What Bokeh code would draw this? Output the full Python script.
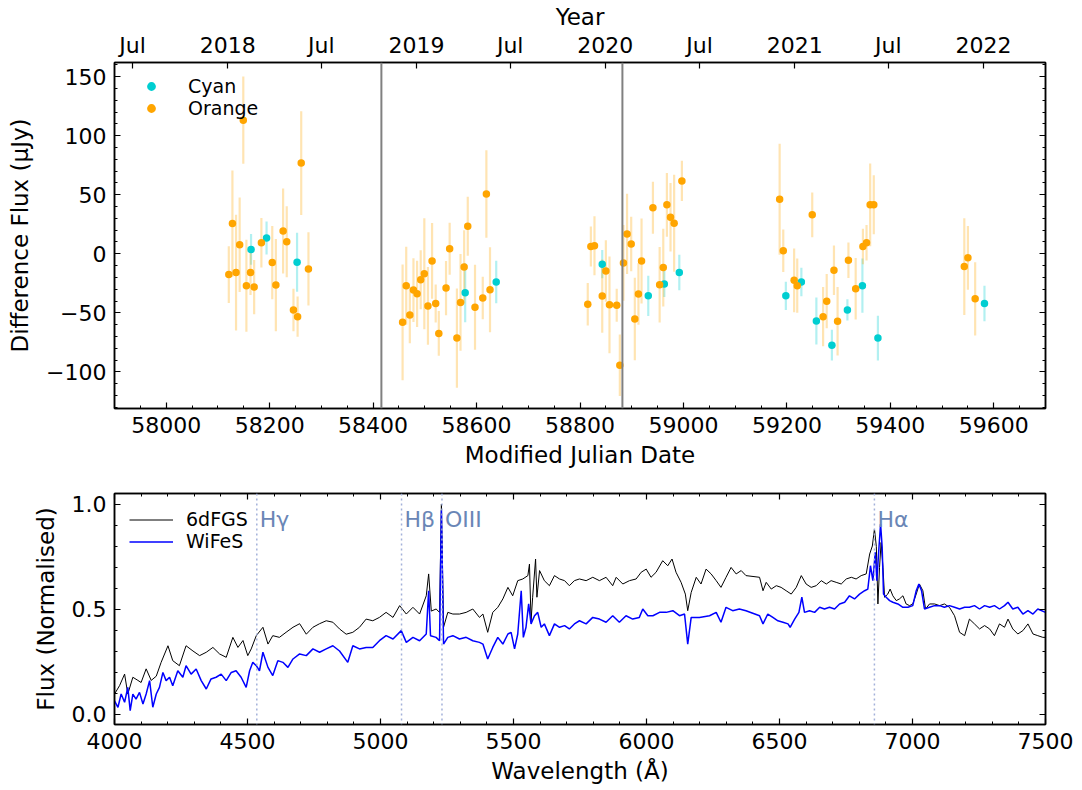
import datetime
from bokeh.plotting import figure
from bokeh.models import (LinearAxis, FixedTicker, SingleIntervalTicker, Span, Legend, LegendItem,
                          ColumnDataSource, Range1d, CustomJSTickFormatter)
from bokeh.layouts import column
from bokeh.core.properties import value
from bokeh.embed import file_html
from bokeh.resources import INLINE

FONT = "DejaVu Sans"

# ---------------- light curve data (MJD, difference flux in uJy, 1-sigma error) -------------
cyan_mjd = [58164, 58194, 58253, 58578, 58638, 58843, 58932, 58963, 58992,
            59198, 59228, 59257, 59287, 59317, 59346, 59376, 59582]
cyan_flux = [3.7, 13.4, -7.1, -33.0, -23.9, -8.8, -35.6, -25.6, -15.9,
             -35.6, -23.9, -56.9, -77.4, -47.5, -27.0, -71.4, -42.1]
cyan_err = [13, 14, 25, 25, 18, 12, 17, 11, 15, 12, 12, 20, 13, 9, 23, 19, 15]

orange_mjd = [58121, 58128, 58135, 58142, 58149, 58155, 58163, 58170, 58184, 58205, 58212,
              58226, 58233, 58246, 58254, 58261, 58275,
              58457, 58464, 58471, 58478, 58485, 58492, 58499, 58506, 58514, 58521, 58527,
              58541, 58548, 58562, 58569, 58576, 58583, 58597, 58612, 58619, 58626,
              58815, 58821, 58828, 58843, 58850, 58857, 58871, 58877, 58884, 58891, 58899,
              58906, 58913, 58919, 58941, 58954, 58961, 58968, 58975, 58982, 58997,
              59186, 59193, 59214, 59220, 59249, 59270, 59277, 59291, 59298, 59319, 59333,
              59347, 59354, 59361, 59368, 59543, 59550, 59564]
orange_flux = [-17.6, 25.6, -15.9, 7.7, 113.2, -27.0, -15.9, -28.2, 9.4, -7.4, -26.5,
               19.3, 10.2, -47.5, -53.2, 76.8, -12.8,
               -58.0, -27.0, -51.8, -30.7, -33.9, -21.9, -16.8, -44.1, -6.0, -42.1, -67.4,
               -29.0, 4.3, -71.4, -41.2, -11.1, 23.3, -45.2, -37.5, 50.6, -30.4,
               -42.7, 6.2, 6.8, -35.8, -14.5, -43.2, -43.5, -94.4, -7.7, 16.8, 8.3,
               -55.2, -34.1, -6.0, 39.0, -26.2, -11.7, 41.5, 31.0, 25.9, 61.7,
               46.1, 2.6, -22.5, -27.0, 33.0, -53.2, -40.1, -13.9, -57.2, -5.4, -29.6,
               6.2, 9.4, 41.5, 41.5, -10.8, -3.4, -38.1]
orange_err = [24, 45, 49, 40, 37, 39, 19, 23, 21, 31, 39, 36, 30, 18, 17, 44, 31,
              49, 33, 24, 27, 28, 25, 47, 33, 32, 16, 19, 23, 22, 42, 41, 31, 25, 36, 18, 37, 36,
              18, 17, 25, 31, 26, 41, 14, 26, 32, 34, 23, 35, 26, 36, 22, 32, 33, 27, 29, 41, 17,
              47, 18, 27, 23, 19, 25, 23, 21, 29, 15, 26, 15, 15, 35, 25, 41, 27, 31]

event_mjd = [58416, 58882]

year_tick_dates = [(2017, 7), (2018, 1), (2018, 7), (2019, 1), (2019, 7),
                   (2020, 1), (2020, 7), (2021, 1), (2021, 7), (2022, 1)]
year_tick_labels = ["Jul", "2018", "Jul", "2019", "Jul", "2020", "Jul", "2021", "Jul", "2022"]

# ---------------- spectra ------------------------------------------------------------------
wl_6dfgs = [4000, 4019, 4038, 4050, 4069, 4088, 4100, 4119, 4138, 4157, 4175, 4201, 4219, 4244,
            4269, 4295, 4320, 4345, 4370, 4395, 4420, 4445, 4464, 4483, 4501, 4514, 4533, 4558,
            4577, 4595, 4620, 4645, 4671, 4696, 4721, 4746, 4771, 4796, 4821, 4846, 4871, 4896,
            4921, 4946, 4971, 4996, 5021, 5047, 5072, 5097, 5122, 5147, 5172, 5181, 5191, 5209,
            5222, 5229, 5237, 5253, 5272, 5297, 5322, 5347,
            5372, 5385, 5403, 5422, 5441, 5460, 5479, 5497, 5516, 5535, 5554, 5560, 5566, 5572,
            5583, 5588, 5598, 5616, 5635, 5654, 5673, 5692, 5710, 5729, 5748, 5773, 5798, 5823,
            5848, 5873, 5886, 5911, 5936, 5961, 5980, 5999, 6017, 6036, 6061, 6080, 6096, 6111,
            6130, 6146, 6155, 6168, 6187, 6205, 6224, 6243, 6262, 6280, 6299, 6318, 6337, 6356,
            6374,
            6425, 6438, 6450, 6469, 6488, 6506, 6525, 6544, 6563, 6582, 6600, 6619, 6638, 6657,
            6676, 6694, 6713, 6732, 6751, 6770, 6788, 6807, 6826, 6839, 6849, 6857, 6864, 6870,
            6876, 6882, 6889, 6895, 6907, 6916, 6926, 6939, 6951, 6964, 6976, 6989, 7001, 7014,
            7026, 7039, 7049, 7064, 7083, 7102, 7120, 7139, 7158, 7177, 7196, 7214, 7233, 7252,
            7271, 7290, 7308, 7327, 7346, 7359, 7377, 7396, 7415, 7434, 7453, 7471, 7490, 7500]
flux_6dfgs = [0.095, 0.135, 0.19, 0.095, 0.175, 0.16, 0.15, 0.215, 0.16, 0.18, 0.245, 0.325, 0.254, 0.23,
              0.325, 0.30, 0.278, 0.294, 0.317, 0.286, 0.27, 0.365, 0.317, 0.35, 0.278, 0.31, 0.373, 0.413,
              0.333, 0.373, 0.365, 0.389, 0.413, 0.43, 0.38, 0.413, 0.43, 0.444, 0.437, 0.405, 0.38, 0.389,
              0.413, 0.452, 0.444, 0.46, 0.484, 0.46, 0.516, 0.476, 0.508, 0.476, 0.563, 0.667, 0.49, 0.5,
              0.484, 1.0, 0.413, 0.484, 0.476, 0.476, 0.484, 0.5,
              0.46, 0.476, 0.389, 0.484, 0.508, 0.548, 0.603, 0.563, 0.635, 0.643, 0.659, 0.714, 0.444, 0.556,
              0.738, 0.556, 0.683, 0.635, 0.611, 0.659, 0.643, 0.635, 0.611, 0.635, 0.643, 0.635, 0.651, 0.635,
              0.651, 0.611, 0.651, 0.619, 0.635, 0.643, 0.675, 0.69, 0.651, 0.675, 0.73, 0.706, 0.738, 0.675,
              0.627, 0.571, 0.492, 0.579, 0.651, 0.619, 0.69, 0.667, 0.635, 0.603, 0.651, 0.698, 0.667, 0.683,
              0.659,
              0.651, 0.587, 0.627, 0.595, 0.611, 0.603, 0.587, 0.571, 0.603, 0.659, 0.619, 0.603, 0.611, 0.635,
              0.619, 0.635, 0.627, 0.619, 0.643, 0.651, 0.643, 0.659, 0.667, 0.762, 0.80, 0.881, 0.798, 0.524,
              0.698, 0.817, 0.698, 0.556, 0.571, 0.595, 0.563, 0.54, 0.548, 0.563, 0.524, 0.516, 0.524, 0.571,
              0.619, 0.587, 0.5, 0.524, 0.524, 0.516, 0.524, 0.508, 0.468, 0.389, 0.373, 0.452, 0.429, 0.405,
              0.421, 0.405, 0.373, 0.429, 0.413, 0.452, 0.405, 0.381, 0.397, 0.429, 0.381, 0.373, 0.365, 0.365]

wl_wifes = [4000, 4013, 4025, 4038, 4050, 4059, 4069, 4081, 4094, 4107, 4119, 4132, 4144, 4157,
            4169, 4182, 4194, 4207, 4219, 4238, 4257, 4269, 4288, 4307, 4326, 4345, 4363, 4382,
            4401, 4420, 4439, 4457, 4476, 4495, 4508, 4520, 4533, 4545, 4558, 4577, 4595, 4614,
            4633, 4652, 4671, 4696, 4721, 4746, 4771, 4796, 4821, 4846, 4877, 4896, 4921, 4946,
            4971, 4996, 5021, 5047, 5078, 5097, 5122, 5147, 5172, 5181, 5188, 5209, 5222, 5229,
            5237, 5253, 5272, 5297, 5322, 5347,
            5372, 5385, 5403, 5422, 5441, 5460, 5479, 5491, 5504, 5516, 5529, 5537, 5547, 5557,
            5566, 5579, 5591, 5604, 5616, 5635, 5654, 5673, 5692, 5710, 5729, 5748, 5773, 5798,
            5823, 5848, 5873, 5898, 5923, 5948, 5973, 5986, 6005, 6024, 6049, 6074, 6099, 6124,
            6143, 6155, 6168, 6199, 6237, 6262, 6280, 6299, 6324, 6349, 6374,
            6425, 6438, 6456, 6475, 6494, 6513, 6532, 6540, 6557, 6573, 6584, 6594, 6613, 6632,
            6651, 6669, 6688, 6707, 6726, 6745, 6763, 6782, 6801, 6820, 6832, 6842, 6851, 6860,
            6866, 6874, 6880, 6886, 6891, 6901, 6914, 6926, 6945, 6964, 6983, 7001, 7014, 7024,
            7034, 7045, 7064, 7083, 7102, 7120, 7139, 7158, 7177, 7196, 7214, 7233, 7252, 7271,
            7290, 7308, 7327, 7346, 7359, 7377, 7396, 7415, 7434, 7453, 7471, 7500]
flux_wifes = [0.063, 0.032, 0.095, 0.056, 0.127, 0.016, 0.095, 0.071, 0.103, 0.048, 0.095, 0.159, 0.032, 0.095,
              0.127, 0.198, 0.159, 0.175, 0.135, 0.206, 0.175, 0.23, 0.19, 0.214, 0.159, 0.119, 0.167, 0.175,
              0.19, 0.159, 0.198, 0.206, 0.175, 0.127, 0.206, 0.246, 0.23, 0.206, 0.294, 0.222, 0.183, 0.254,
              0.246, 0.222, 0.262, 0.286, 0.278, 0.31, 0.294, 0.31, 0.325, 0.30, 0.246, 0.325, 0.31, 0.317,
              0.317, 0.349, 0.373, 0.357, 0.397, 0.341, 0.365, 0.349, 0.381, 0.587, 0.373, 0.365, 0.349, 0.97,
              0.333, 0.365, 0.373, 0.357, 0.365, 0.349,
              0.341, 0.333, 0.262, 0.317, 0.365, 0.333, 0.381, 0.389, 0.31, 0.381, 0.587, 0.365, 0.413, 0.524,
              0.429, 0.468, 0.484, 0.413, 0.429, 0.373, 0.429, 0.413, 0.421, 0.405, 0.429, 0.444, 0.429, 0.46,
              0.452, 0.437, 0.468, 0.437, 0.468, 0.452, 0.46, 0.5, 0.468, 0.468, 0.484, 0.484, 0.492, 0.468,
              0.476, 0.333, 0.46, 0.46, 0.468, 0.484, 0.437, 0.508, 0.492, 0.5, 0.492,
              0.468, 0.429, 0.476, 0.46, 0.444, 0.437, 0.429, 0.413, 0.452, 0.484, 0.556, 0.484, 0.492, 0.484,
              0.508, 0.5, 0.508, 0.5, 0.524, 0.532, 0.563, 0.548, 0.571, 0.587, 0.595, 0.706, 0.635, 0.770,
              0.635, 0.794, 0.905, 0.794, 0.571, 0.556, 0.54, 0.532, 0.524, 0.508, 0.508, 0.516, 0.587, 0.619,
              0.587, 0.5, 0.508, 0.516, 0.516, 0.508, 0.516, 0.508, 0.5, 0.508, 0.508, 0.516, 0.5, 0.516,
              0.508, 0.516, 0.5, 0.516, 0.532, 0.5, 0.508, 0.476, 0.492, 0.476, 0.5, 0.484]

line_names = ["H\u03b3", "H\u03b2", "OIII", "H\u03b1"]
line_rest_wl = [4340.5, 4861.3, 5006.8, 6562.8]
redshift = 0.0448

# ---------------- styling helpers ----------------------------------------------------------
CYAN = "#00CED1"
ORANGE = "#FFA500"
LINE_LABEL = "#6a86b6"
LINE_MARK = "#a3b1da"


def style_axis(ax, size="22px", label_size="23px"):
    ax.major_tick_in = 6
    ax.major_tick_out = 0
    ax.minor_tick_in = 3
    ax.minor_tick_out = 0
    ax.axis_line_color = "black"
    ax.axis_line_width = 1.5
    ax.major_tick_line_width = 1.2
    ax.minor_tick_line_width = 1
    ax.major_label_text_font = FONT
    ax.major_label_text_font_size = size
    ax.major_label_text_color = "black"
    ax.major_label_standoff = 8
    ax.axis_label_text_font = FONT
    ax.axis_label_text_font_size = label_size
    ax.axis_label_text_font_style = "normal"
    ax.axis_label_text_color = "black"
    ax.axis_label_standoff = 6


blank = CustomJSTickFormatter(code="return '';")

# ---------------- top panel: light curve ---------------------------------------------------
p1 = figure(width=1080, height=472, x_range=Range1d(57900, 59700), y_range=Range1d(-131, 162),
            output_backend="svg", toolbar_location=None,
            min_border_left=114, min_border_right=35, min_border_top=58, min_border_bottom=64)
p1.grid.visible = False
p1.outline_line_color = "black"
p1.outline_line_width = 1.5

xt1 = SingleIntervalTicker(interval=200, num_minor_ticks=4)
yt1 = SingleIntervalTicker(interval=50, num_minor_ticks=5)
p1.xaxis.ticker = xt1
p1.yaxis.ticker = yt1
p1.xaxis.formatter = CustomJSTickFormatter(code="return tick.toFixed(0);")
p1.yaxis.formatter = CustomJSTickFormatter(code="return tick.toFixed(0).replace('-', '\u2212');")
p1.xaxis.axis_label = "Modified Julian Date"
p1.yaxis.axis_label = "Difference Flux (\u03bcJy)"
style_axis(p1.xaxis[0])
style_axis(p1.yaxis[0])
p1.yaxis[0].axis_label_standoff = 10

mjd0 = datetime.date(1858, 11, 17)
year_ticks = [(datetime.date(y, m, 1) - mjd0).days for (y, m) in year_tick_dates]
top1 = LinearAxis(ticker=FixedTicker(ticks=year_ticks, minor_ticks=[]),
                  formatter=CustomJSTickFormatter(args=dict(t=year_ticks, l=year_tick_labels),
                                                  code="const i = t.indexOf(tick); return i >= 0 ? l[i] : '';"),
                  axis_label="Year")
style_axis(top1)
top1.axis_label_standoff = 0
top1.major_label_standoff = 5
p1.add_layout(top1, "above")

right1 = LinearAxis(ticker=yt1, formatter=blank)
style_axis(right1)
right1.major_label_standoff = 0
p1.add_layout(right1, "right")

for m in event_mjd:
    p1.add_layout(Span(location=m, dimension="height", line_color="#808080", line_width=2))

src_c = ColumnDataSource(dict(x=cyan_mjd, y=cyan_flux,
                              lo=[f - e for f, e in zip(cyan_flux, cyan_err)],
                              hi=[f + e for f, e in zip(cyan_flux, cyan_err)]))
src_o = ColumnDataSource(dict(x=orange_mjd, y=orange_flux,
                              lo=[f - e for f, e in zip(orange_flux, orange_err)],
                              hi=[f + e for f, e in zip(orange_flux, orange_err)]))

ec = p1.segment(x0="x", y0="lo", x1="x", y1="hi", source=src_c, line_color=CYAN, line_alpha=0.3, line_width=2.2)
eo = p1.segment(x0="x", y0="lo", x1="x", y1="hi", source=src_o, line_color=ORANGE, line_alpha=0.3, line_width=2.2)
sc = p1.scatter(x="x", y="y", source=src_c, size=7.5, fill_color=CYAN, line_color=None)
so = p1.scatter(x="x", y="y", source=src_o, size=7.5, fill_color=ORANGE, line_color=None)

leg1 = Legend(items=[LegendItem(label="Cyan", renderers=[sc]), LegendItem(label="Orange", renderers=[so])],
              location="top_left", margin=13, padding=0, glyph_width=48, glyph_height=22,
              label_height=22, spacing=0, label_standoff=13,
              label_text_font=FONT, label_text_font_size="19px", label_text_color="black",
              border_line_color=None, background_fill_alpha=0)
p1.add_layout(leg1)

# ---------------- bottom panel: spectra ----------------------------------------------------
p2 = figure(width=1080, height=314, x_range=Range1d(4000, 7500), y_range=Range1d(-0.05, 1.05),
            output_backend="svg", toolbar_location=None,
            min_border_left=114, min_border_right=35, min_border_top=21, min_border_bottom=62)
p2.grid.visible = False
p2.outline_line_color = "black"
p2.outline_line_width = 1.5

xt2 = SingleIntervalTicker(interval=500, num_minor_ticks=5)
yt2 = SingleIntervalTicker(interval=0.5, num_minor_ticks=5)
p2.xaxis.ticker = xt2
p2.yaxis.ticker = yt2
p2.xaxis.formatter = CustomJSTickFormatter(code="return tick.toFixed(0);")
p2.yaxis.formatter = CustomJSTickFormatter(code="return tick.toFixed(1);")
p2.xaxis.axis_label = "Wavelength (\u00c5)"
p2.yaxis.axis_label = "Flux (Normalised)"
style_axis(p2.xaxis[0])
style_axis(p2.yaxis[0])
p2.yaxis[0].axis_label_standoff = 10

top2 = LinearAxis(ticker=xt2, formatter=blank)
style_axis(top2)
top2.major_label_standoff = 0
p2.add_layout(top2, "above")
right2 = LinearAxis(ticker=yt2, formatter=blank)
style_axis(right2)
right2.major_label_standoff = 0
p2.add_layout(right2, "right")

obs_wl = [w * (1 + redshift) for w in line_rest_wl]
for w in obs_wl:
    p2.add_layout(Span(location=w, dimension="height", line_color=LINE_MARK, line_width=1.5,
                       line_dash="2 3"))

l6 = p2.line(wl_6dfgs, flux_6dfgs, line_color="black", line_width=1)
lw = p2.line(wl_wifes, flux_wifes, line_color="#0000ff", line_width=1.5)

p2.text(x=obs_wl, y=[0.925] * len(obs_wl), text=line_names, x_offset=3,
        text_font=value(FONT), text_font_size="22px", text_color=LINE_LABEL,
        text_baseline="alphabetic", text_align="left")

leg2 = Legend(items=[LegendItem(label="6dFGS", renderers=[l6]), LegendItem(label="WiFeS", renderers=[lw])],
              location="top_left", margin=15, padding=0, glyph_width=44, glyph_height=21,
              label_height=21, spacing=0, label_standoff=13,
              label_text_font=FONT, label_text_font_size="19px", label_text_color="black",
              border_line_color=None, background_fill_alpha=0)
p2.add_layout(leg2)

layout = column(p1, p2, spacing=0)
with open("out.html", "w", encoding="utf-8") as f:
    f.write(file_html(layout, INLINE))
